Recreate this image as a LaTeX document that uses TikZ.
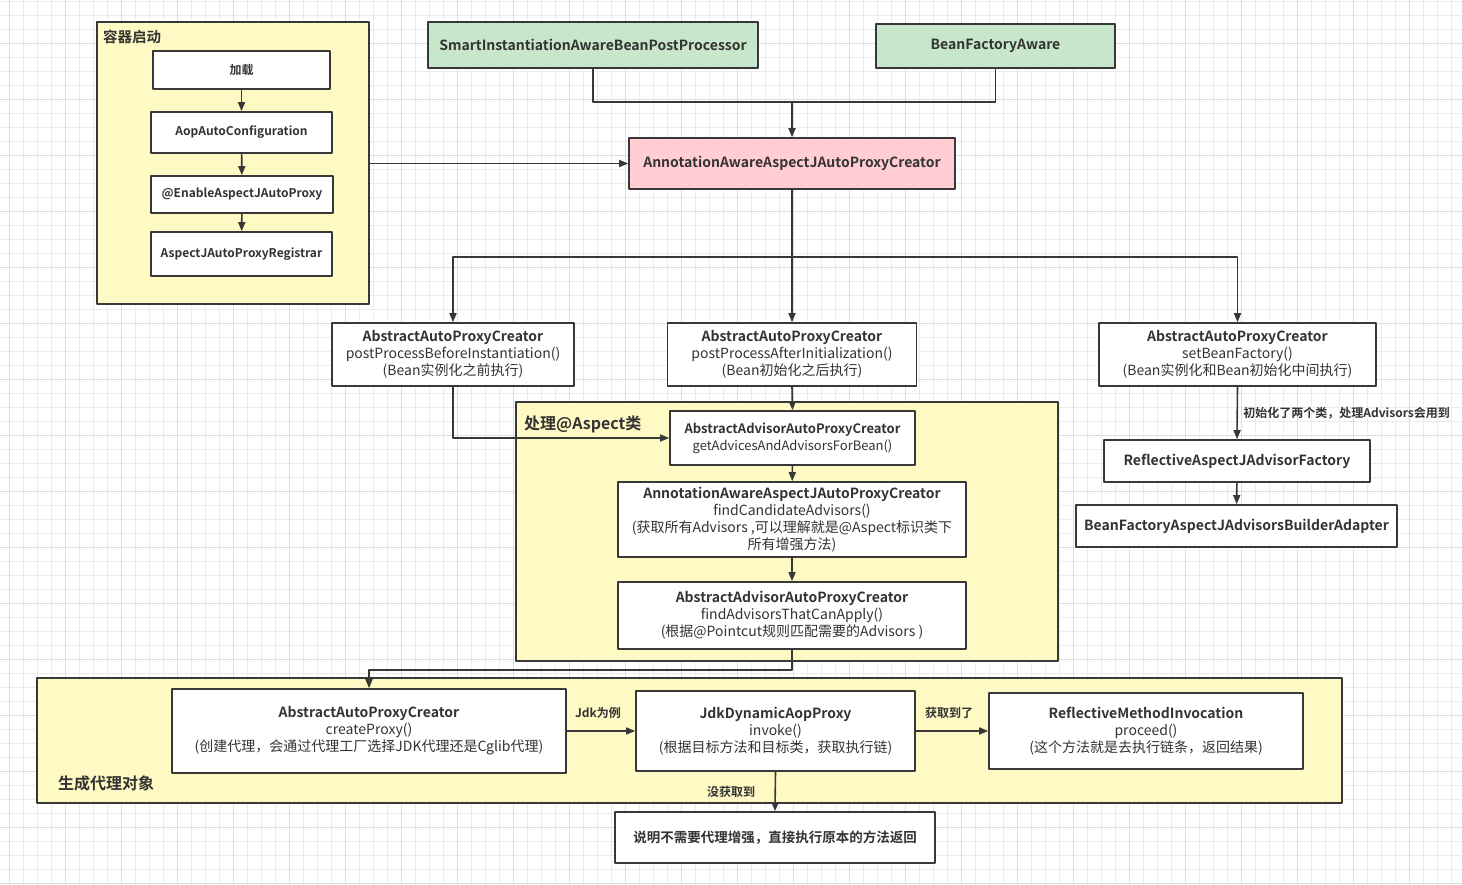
\documentclass[tikz,border=0pt]{standalone}
\usepackage{fontspec}
\setmainfont{Noto Sans CJK SC}[BoldFont={Noto Sans CJK SC Bold}]
\usetikzlibrary{arrows.meta}
\definecolor{edge}{HTML}{383838}
\definecolor{ink}{HTML}{333333}
\definecolor{note}{HTML}{FFF9C4}
\definecolor{mint}{HTML}{C8E6C9}
\definecolor{rose}{HTML}{FFCDD2}
\definecolor{gridminor}{HTML}{ECECEC}
\definecolor{gridmajor}{HTML}{DEDEDE}
\begin{document}
\begin{tikzpicture}[x=1pt, y=-1pt, line cap=round, line join=round, >={Triangle[length=9pt,width=7pt]}, font=\fontsize{14}{17}\selectfont]
\tikzset{box/.style={draw=edge, line width=1.6pt, fill=white, text=ink, align=center, inner sep=0pt},
  grp/.style={draw=edge, line width=1.6pt, fill=note, inner sep=0pt},
  small/.style={font=\bfseries\fontsize{12}{14}\selectfont},
  title/.style={text=ink, anchor=west, inner sep=0pt},
  lbl/.style={text=ink, font=\bfseries\fontsize{12}{14}\selectfont},
  arr/.style={->, draw=edge, line width=1.6pt}}
\useasboundingbox (0,0) rectangle (1462,885);
\fill[white] (0,0) rectangle (1462,885);
\foreach \x in {9,23,...,1461} \draw[gridminor, line width=0.8pt] (\x,0) -- (\x,885);
\foreach \y in {1,15,...,885} \draw[gridminor, line width=0.8pt] (0,\y) -- (1462,\y);
\foreach \x in {9,65,...,1461} \draw[gridmajor, line width=0.8pt] (\x,0) -- (\x,885);
\foreach \y in {43,99,...,885} \draw[gridmajor, line width=0.8pt] (0,\y) -- (1462,\y);
\node[grp, minimum width=272pt, minimum height=282pt] (boot) at (233,163) {};
\node[grp, minimum width=542pt, minimum height=259pt] (aspect) at (787,531.5) {};
\node[grp, minimum width=1305pt, minimum height=125pt] (gen) at (689.5,740.5) {};
\node[title, font=\bfseries\fontsize{14.5}{17}\selectfont] (bootT) at (103,37) {容器启动};
\node[title, font=\bfseries\fontsize{16}{19}\selectfont] (aspectT) at (524,424) {处理@Aspect类};
\node[title, font=\bfseries\fontsize{16}{19}\selectfont] (genT) at (58,783) {生成代理对象};
\node[box, small, minimum width=177pt, minimum height=38pt] (load) at (241.5,70) {加载};
\node[box, small, minimum width=181pt, minimum height=41pt] (aop) at (241.5,132.5) {AopAutoConfiguration};
\node[box, small, minimum width=182pt, minimum height=37pt] (enable) at (242,194.5) {@EnableAspectJAutoProxy};
\node[box, small, minimum width=181pt, minimum height=44pt] (reg) at (241.5,254) {AspectJAutoProxyRegistrar};
\node[box, fill=mint, font=\bfseries\fontsize{14}{17}\selectfont, minimum width=330pt, minimum height=46pt] (smart) at (593,45) {SmartInstantiationAwareBeanPostProcessor};
\node[box, fill=mint, font=\bfseries\fontsize{14}{17}\selectfont, minimum width=239pt, minimum height=44pt] (bfa) at (995.5,46) {BeanFactoryAware};
\node[box, fill=rose, font=\bfseries\fontsize{14}{17}\selectfont, minimum width=326pt, minimum height=51pt] (aapc) at (792,163.5) {AnnotationAwareAspectJAutoProxyCreator};
\node[box, minimum width=242pt, minimum height=63pt] (bpbi) at (453,354.5) {\textbf{AbstractAutoProxyCreator}\\postProcessBeforeInstantiation()\\(Bean实例化之前执行)};
\node[box, minimum width=249pt, minimum height=63pt] (bpai) at (792,354.5) {\textbf{AbstractAutoProxyCreator}\\postProcessAfterInitialization()\\(Bean初始化之后执行)};
\node[box, minimum width=277pt, minimum height=63pt] (sbf) at (1237.5,354.5) {\textbf{AbstractAutoProxyCreator}\\setBeanFactory()\\(Bean实例化和Bean初始化中间执行)};
\node[box, font=\bfseries\fontsize{14}{17}\selectfont, minimum width=266pt, minimum height=42pt] (rajaf) at (1237,461) {ReflectiveAspectJAdvisorFactory};
\node[box, font=\bfseries\fontsize{14}{17}\selectfont, minimum width=321pt, minimum height=42pt] (bfajab) at (1236.5,526) {BeanFactoryAspectJAdvisorsBuilderAdapter};
\node[box, font=\fontsize{13}{17}\selectfont, minimum width=245pt, minimum height=54pt] (gaab) at (792.5,438) {\textbf{AbstractAdvisorAutoProxyCreator}\\getAdvicesAndAdvisorsForBean()};
\node[box, minimum width=348pt, minimum height=75pt] (fca) at (792,519.5) {\textbf{AnnotationAwareAspectJAutoProxyCreator}\\findCandidateAdvisors()\\(获取所有Advisors ,可以理解就是@Aspect标识类下\\所有增强方法)};
\node[box, minimum width=348pt, minimum height=67pt] (fatca) at (792,615.5) {\textbf{AbstractAdvisorAutoProxyCreator}\\findAdvisorsThatCanApply()\\(根据@Pointcut规则匹配需要的Advisors )};
\node[box, minimum width=394pt, minimum height=84pt] (cp) at (369,731) {\textbf{AbstractAutoProxyCreator}\\createProxy()\\(创建代理，会通过代理工厂选择JDK代理还是Cglib代理)};
\node[box, minimum width=279pt, minimum height=80pt] (jdk) at (775.5,731) {\textbf{JdkDynamicAopProxy}\\invoke()\\(根据目标方法和目标类，获取执行链)};
\node[box, minimum width=314pt, minimum height=76pt] (rmi) at (1146,731) {\textbf{ReflectiveMethodInvocation}\\proceed()\\(这个方法就是去执行链条，返回结果)};
\node[box, font=\bfseries\fontsize{13.5}{17}\selectfont, minimum width=320pt, minimum height=51pt] (ret) at (775,837.5) {说明不需要代理增强，直接执行原本的方法返回};
\coordinate (j1) at (792,102);
\coordinate (j2) at (792,257);
\coordinate (j3) at (792,670);
\draw[arr] (load) -- (aop);
\draw[arr] (aop) -- (enable);
\draw[arr] (enable) -- (reg);
\draw[edge, line width=1.6pt] (smart.south) |- (j1) -| (bfa.south);
\draw[arr] (j1) -- (aapc.north);
\draw[arr] (boot.east |- aapc.west) -- (aapc.west);
\draw[edge, line width=1.6pt] (aapc.south) -- (j2);
\draw[arr] (j2) -| (bpbi.north);
\draw[arr] (j2) -- (bpai.north);
\draw[arr] (j2) -| (sbf.north);
\draw[arr] (sbf.south) -- node[lbl, right=2pt] {初始化了两个类，处理Advisors会用到} (rajaf.north);
\draw[arr] (rajaf) -- (bfajab);
\draw[arr] (bpbi.south) |- (gaab.west);
\draw[arr] (bpai.south) -- (gaab.north);
\draw[arr] (gaab) -- (fca);
\draw[arr] (fca) -- (fatca);
\draw[arr] (fatca.south) -- (j3) -| (cp.north);
\draw[arr] (cp) -- node[lbl, above=8pt, xshift=-3pt] {Jdk为例} (jdk);
\draw[arr] (jdk) -- node[lbl, above=8pt, xshift=-3pt] {获取到了} (rmi);
\draw[arr] (jdk.south) -- node[lbl, left=16pt] {没获取到} (ret.north);
\end{tikzpicture}
\end{document}
